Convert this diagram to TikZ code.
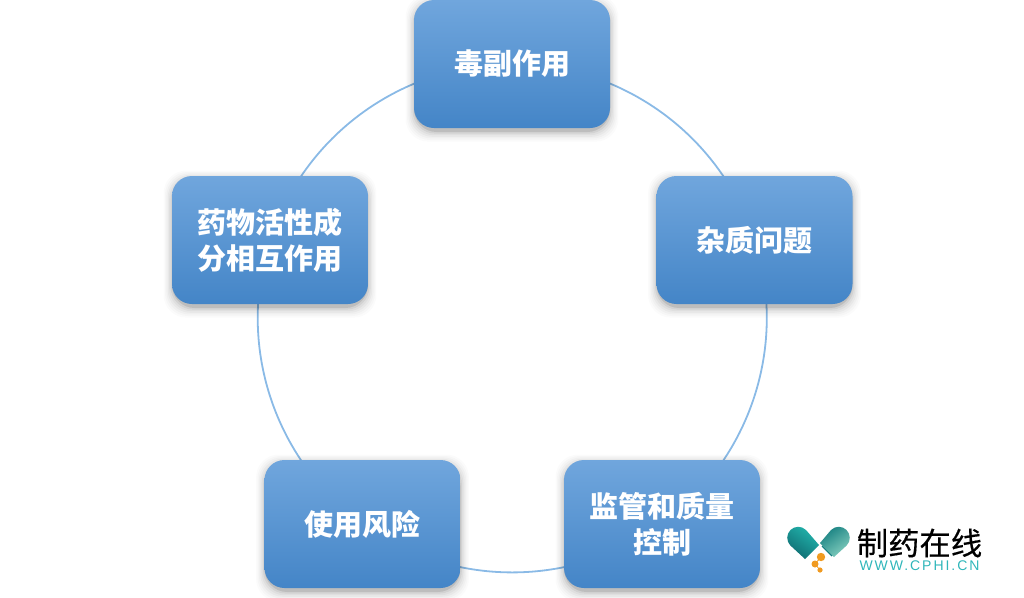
\documentclass[tikz,border=0pt]{standalone}
\usepackage{fontspec}
\newfontfamily\cjk{Noto Sans CJK SC}
\setmainfont{Liberation Sans}
\usetikzlibrary{backgrounds}
\definecolor{boxtop}{HTML}{70A6DD}
\definecolor{boxmid}{HTML}{5A9BDC}
\definecolor{boxbot}{HTML}{4485C7}
\definecolor{ringc}{HTML}{8ABAE6}
\definecolor{logoteal}{HTML}{2FB6BA}
\definecolor{capA}{HTML}{22B6AE}
\definecolor{capB}{HTML}{0F6A70}
\definecolor{capC}{HTML}{86D0C0}
\definecolor{capD}{HTML}{157F80}
\definecolor{dot}{HTML}{F09A20}
\tikzset{
  topic/.style={minimum width=147pt,minimum height=96pt,rounded corners=15pt,
    top color=boxtop,middle color=boxmid,bottom color=boxbot,inner sep=0pt,
    text=white,align=center,font=\cjk\bfseries\fontsize{21.75pt}{27pt}\selectfont},
  ring/.style={draw=ringc,line width=1.35pt,looseness=0.94,bend left=36},
  logotext/.style={inner sep=0pt,anchor=center,text=black,font=\cjk\fontsize{23.5pt}{24pt}\selectfont},
  logourl/.style={inner sep=0pt,anchor=center,text=logoteal,font=\fontsize{10.5pt}{11pt}\selectfont},
}
\newcommand{\softshadow}[2]{%
  \foreach \g/\o in {12/0.015,10/0.02,8/0.025,6/0.03,4/0.04,2/0.06,0/0.10}{
    \fill[black,opacity=\o,rounded corners=17pt]
      ({#1-98-\g*0.7},{#2-64+3-\g*0.7}) rectangle ({#1+98+\g*0.7},{#2+64+4+\g*0.8});
  }}
\begin{document}
\begin{tikzpicture}[x=0.75pt,y=-0.75pt]
\useasboundingbox (0,0) rectangle (1024,597);
\softshadow{512}{64}
\softshadow{754.5}{240}
\softshadow{662}{524}
\softshadow{362.5}{524}
\softshadow{270}{240}
\node[topic] (a) at (512,64) {毒副作用};
\node[topic] (b) at (754.5,240) {杂质问题};
\node[topic] (c) at (662,524) {监管和质量\\控制};
\node[topic] (d) at (362.5,524) {使用风险};
\node[topic] (e) at (270,240) {药物活性成\\分相互作用};
\begin{scope}[on background layer]
\draw[ring] (a.center) to (b.center);
\draw[ring] (b.center) to (c.center);
\draw[ring] (c.center) to (d.center);
\draw[ring] (d.center) to (e.center);
\draw[ring] (e.center) to (a.center);
\end{scope}
% logo
\shade[left color=capA,right color=capB,shading angle=-35]
  (806,530) arc[start angle=-45,end angle=-225,radius=11] -- (805,559) -- (819,545) -- cycle;
\shade[left color=capD,right color=capC,shading angle=35]
  (831,530) arc[start angle=-135,end angle=45,radius=11] -- (834,557) -- (820,543) -- cycle;
\draw[capD,line width=1pt] (822,546) -- (832,556);
\draw[dot,line width=0.6pt] (821,557) -- (815,564) -- (820,570);
\fill[dot] (821,557) circle (4.2);
\fill[dot] (815,564) circle (3.5);
\fill[dot] (820,570) circle (2.6);
\node[logotext] (lt) at (919.5,543) {\addfontfeature{FakeBold=0.4}制药在线};
\node[logourl] (lu) at (919.5,566) {\addfontfeature{LetterSpace=14}WWW.CPHI.CN};
\end{tikzpicture}
\end{document}
